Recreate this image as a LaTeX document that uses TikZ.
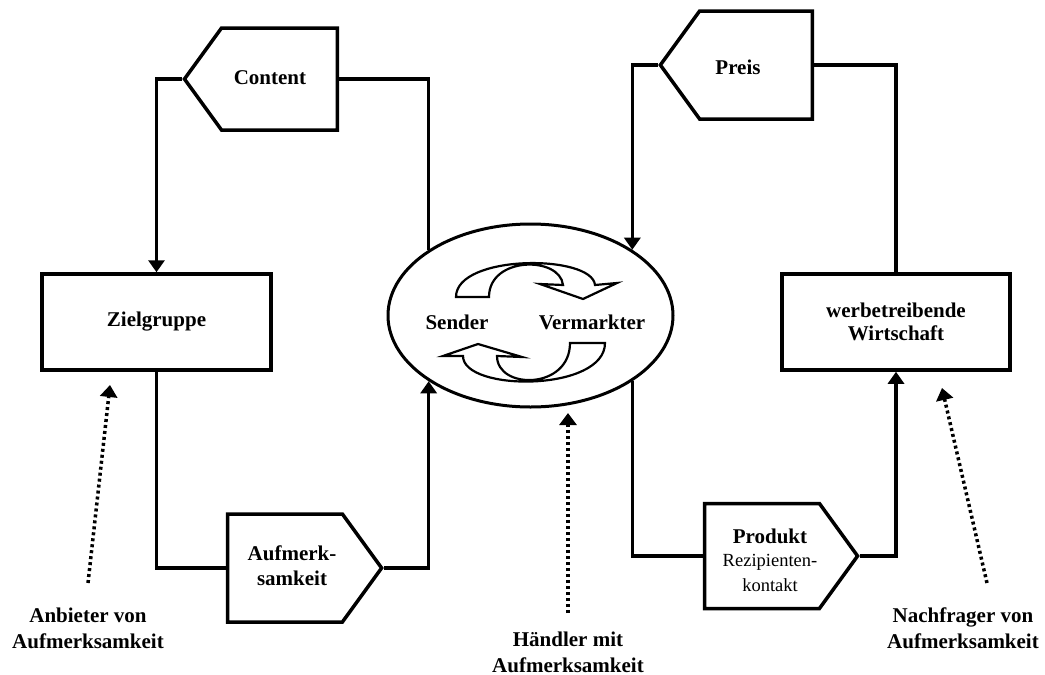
\documentclass[tikz,border=0pt]{standalone}
\usepackage{fontspec}
\setmainfont{Liberation Serif}
\usetikzlibrary{shapes.geometric,shapes.symbols,arrows.meta}
\tikzset{
  box/.style={draw,line width=3.5pt,minimum width=229pt,minimum height=96pt,
    align=center,font=\fontsize{21}{23}\selectfont\bfseries},
  flag/.style={draw,line width=3.5pt,shape=signal,signal pointer angle=108,
    inner sep=0pt,minimum width=153pt,minimum height=105pt},
  lbl/.style={align=center,font=\fontsize{21}{25}\selectfont\bfseries},
  conn/.style={line width=3.5pt},
  tip/.style={-{Triangle[width=16pt,length=12pt]}},
  hint/.style={line width=3.5pt,dash pattern=on 3pt off 3pt,
    -{Triangle[width=17pt,length=12pt]}},
  cyc/.style={line width=2.2pt,fill=white,line join=miter},
  tag/.style={align=center,font=\fontsize{21}{26}\selectfont\bfseries}
}
\begin{document}
\begin{tikzpicture}[x=1pt,y=-1pt]
\useasboundingbox (0,0) rectangle (1045,675);
% market place in the middle
\node[draw,line width=3pt,ellipse,minimum width=285pt,minimum height=183pt] (mkt) at (530.5,315.5) {};
\node[lbl] (send) at (457,322) {Sender};
\node[lbl] (verm) at (592,322) {Vermarkter};
\draw[cyc] (456,297) .. controls (456,254) and (592,254) .. (595,285) -- (617,283) -- (583,299) -- (540,284) -- (563,285)
  .. controls (560,256) and (489,256) .. (489,297) -- cycle;
\draw[cyc] (605,343) .. controls (605,392) and (463,392) .. (463,356) -- (443,356) -- (478,344) -- (522,357) -- (497,356)
  .. controls (497,390) and (570,390) .. (570,343) -- cycle;
% left loop
\node[box] (ziel) at (156.5,322) {Zielgruppe};
\node[flag,signal to=west,minimum height=102pt] (content) at (279.5,79) {};
\node[lbl] (ctxt) at (270,78) {Content};
\node[flag,signal to=east,minimum width=154pt,minimum height=108pt] (aufm) at (285,568) {};
\node[lbl] (atxt) at (292,566) {Aufmerk-\\samkeit};
\draw[conn] (content.east) -| (mkt.north west);
\draw[conn,tip] (content.west) -| (ziel.north);
\draw[conn] (ziel.south) |- (aufm.west);
\draw[conn,tip] (aufm.east) -| (mkt.south west);
% right loop
\node[box,minimum width=228pt] (wirt) at (896,322) {werbetreibende\\Wirtschaft};
\node[flag,signal to=west,minimum width=152pt,minimum height=108pt] (preis) at (756,65) {};
\node[lbl] (ptxt) at (738,67) {Preis};
\node[flag,signal to=east] (prod) at (762,556) {};
\node[lbl] (rtxt) at (770,560) {Produkt\\[-2pt]{\fontsize{18.5}{23}\selectfont\mdseries Rezipienten-}\\{\fontsize{18.5}{23}\selectfont\mdseries kontakt}};
\draw[conn,tip] (preis.west) -| (mkt.north east);
\draw[conn] (preis.east) -| (wirt.north);
\draw[conn] (mkt.south east) |- (prod.west);
\draw[conn,tip] (prod.east) -| (wirt.south);
% roles
\node[tag] (anb) at (88,628) {Anbieter von\\Aufmerksamkeit};
\node[tag] (hdl) at (568,652) {Händler mit\\Aufmerksamkeit};
\node[tag] (nfr) at (963,628) {Nachfrager von\\Aufmerksamkeit};
\coordinate (anbS) at (88,583);
\coordinate (anbE) at (110,385);
\coordinate (hdlS) at (568,613);
\coordinate (hdlE) at (568,413);
\coordinate (nfrS) at (987,583);
\coordinate (nfrE) at (942,388);
\draw[hint] (anbS) -- (anbE);
\draw[hint] (hdlS) -- (hdlE);
\draw[hint] (nfrS) -- (nfrE);
\end{tikzpicture}
\end{document}
